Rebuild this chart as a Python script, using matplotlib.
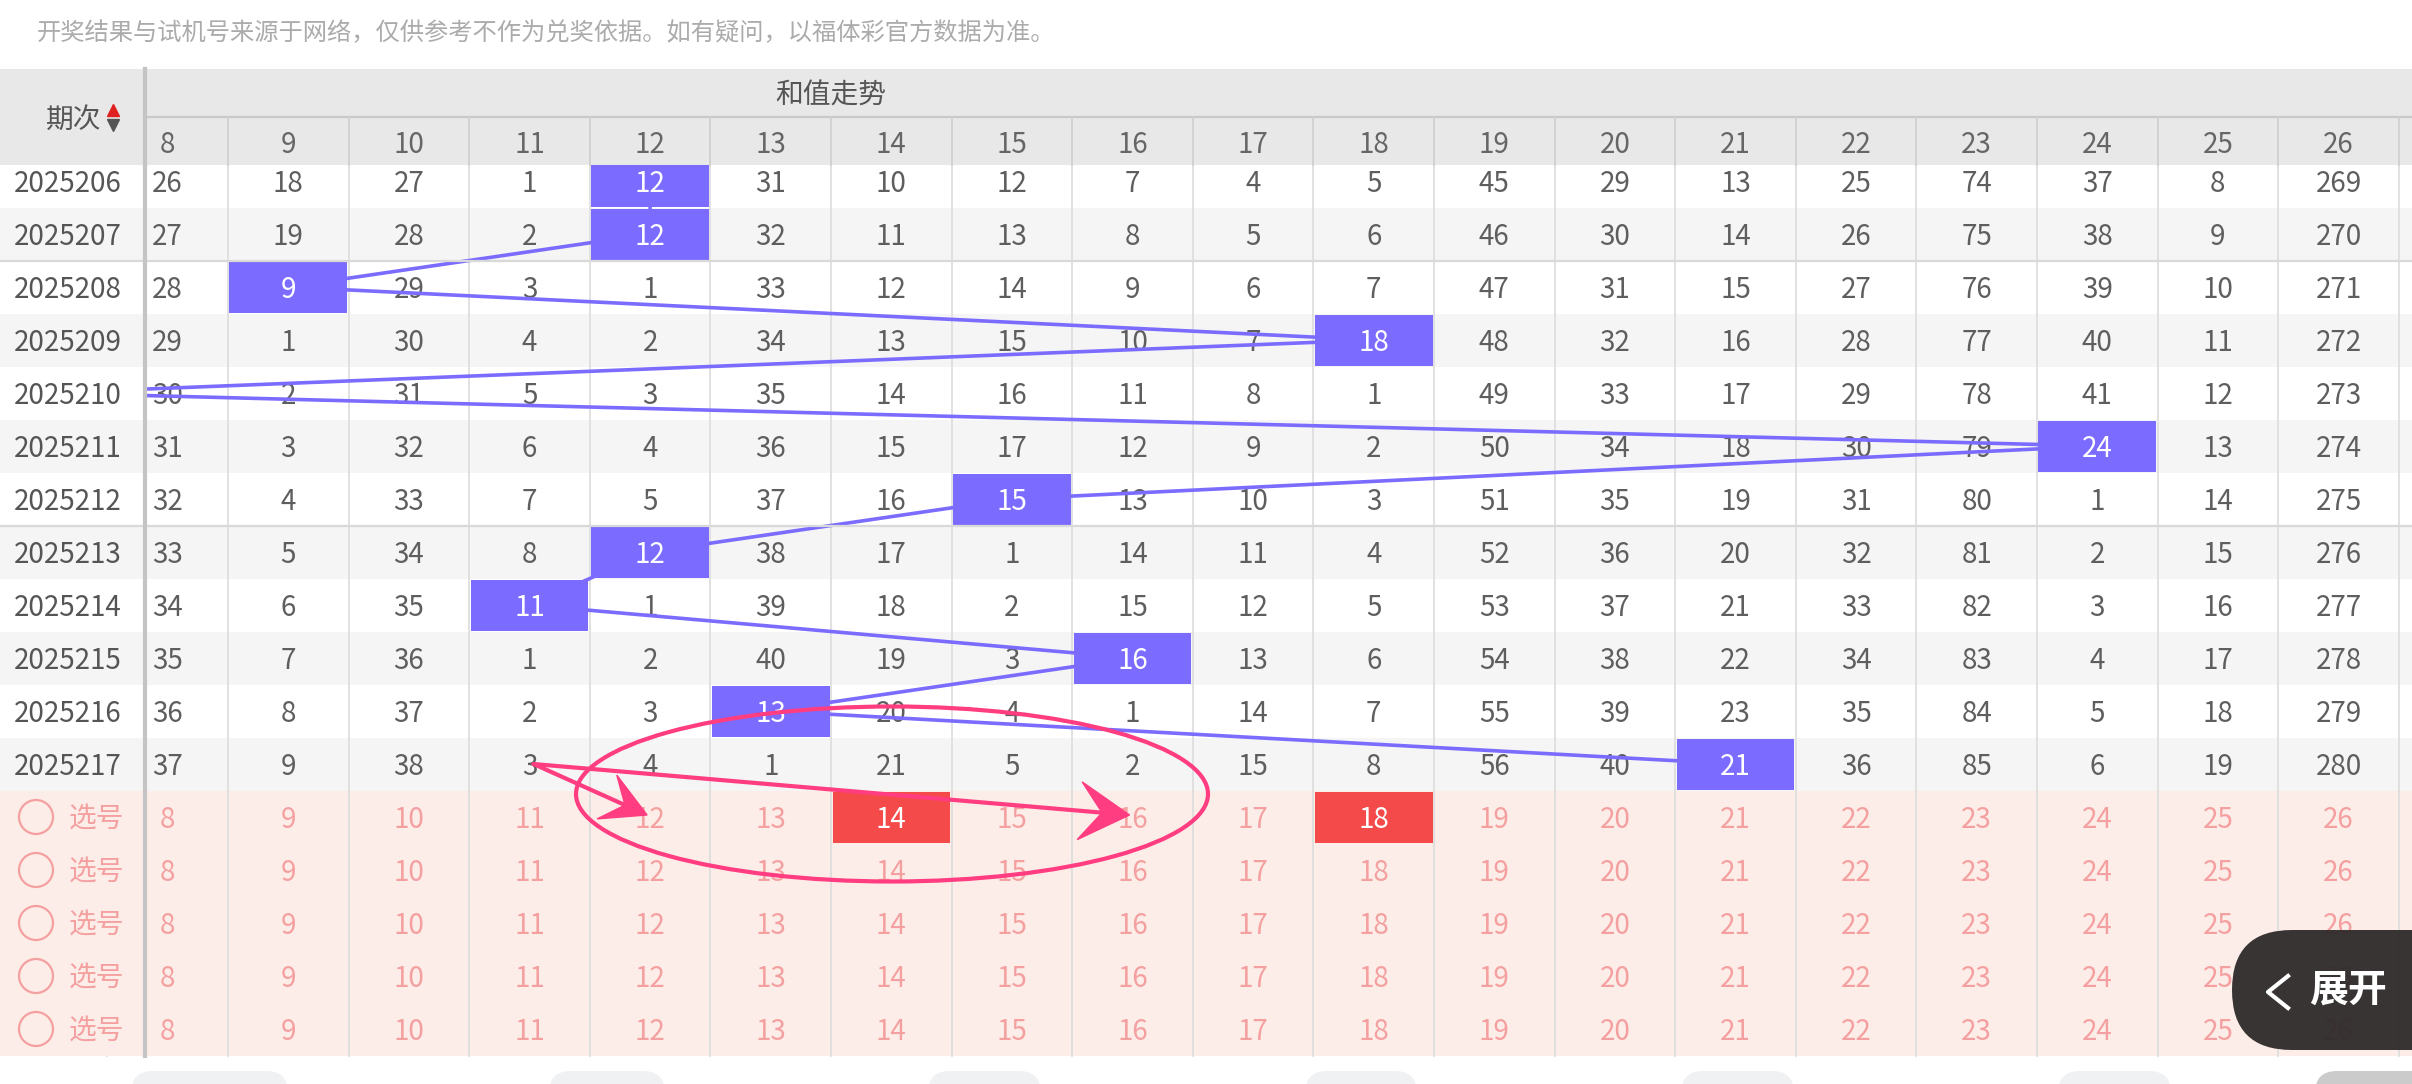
import numpy as np
import matplotlib.pyplot as plt
from matplotlib.patches import Rectangle, Ellipse, Polygon, FancyBboxPatch, Circle

plt.rcParams['font.family'] = ['Noto Sans CJK SC', 'DejaVu Sans']

# ---- data ----
notice = "开奖结果与试机号来源于网络，仅供参考不作为兑奖依据。如有疑问，以福体彩官方数据为准。"
title = "和值走势"
sums = list(range(8, 27))
periods = ["2025206", "2025207", "2025208", "2025209", "2025210", "2025211",
           "2025212", "2025213", "2025214", "2025215", "2025216", "2025217"]
# drawn sum of each period (7 sits in a column scrolled off to the left)
hits = [12, 12, 9, 18, 7, 24, 15, 12, 11, 16, 13, 21]
# omission counts shown in each row, columns 8..26
omissions = [
    [26, 18, 27, 1, 12, 31, 10, 12, 7, 4, 5, 45, 29, 13, 25, 74, 37, 8, 269],
    [27, 19, 28, 2, 12, 32, 11, 13, 8, 5, 6, 46, 30, 14, 26, 75, 38, 9, 270],
    [28, 9, 29, 3, 1, 33, 12, 14, 9, 6, 7, 47, 31, 15, 27, 76, 39, 10, 271],
    [29, 1, 30, 4, 2, 34, 13, 15, 10, 7, 18, 48, 32, 16, 28, 77, 40, 11, 272],
    [30, 2, 31, 5, 3, 35, 14, 16, 11, 8, 1, 49, 33, 17, 29, 78, 41, 12, 273],
    [31, 3, 32, 6, 4, 36, 15, 17, 12, 9, 2, 50, 34, 18, 30, 79, 24, 13, 274],
    [32, 4, 33, 7, 5, 37, 16, 15, 13, 10, 3, 51, 35, 19, 31, 80, 1, 14, 275],
    [33, 5, 34, 8, 12, 38, 17, 1, 14, 11, 4, 52, 36, 20, 32, 81, 2, 15, 276],
    [34, 6, 35, 11, 1, 39, 18, 2, 15, 12, 5, 53, 37, 21, 33, 82, 3, 16, 277],
    [35, 7, 36, 1, 2, 40, 19, 3, 16, 13, 6, 54, 38, 22, 34, 83, 4, 17, 278],
    [36, 8, 37, 2, 3, 13, 20, 4, 1, 14, 7, 55, 39, 23, 35, 84, 5, 18, 279],
    [37, 9, 38, 3, 4, 1, 21, 5, 2, 15, 8, 56, 40, 21, 36, 85, 6, 19, 280],
]
picked = [14, 18]          # numbers selected in the first 选号 row
pick_label = "选号"
pick_rows = 5
arrow_from = 11            # column of the "3" in the last period where the arrows start
arrow_to = [12, 16]
button_text = "展开"

# ---- layout (pixel units) ----
W, H = 2412, 1084
col_w = 120.6
x0 = 228 - col_w           # left edge of column "8"
frozen = 146
row_h = 53
y_first = 181
head_top, head_mid, head_bot = 69, 117, 165
dy = 3                     # optical offset for text baseline

def cx(v):
    return x0 + (v - sums[0] + 0.5) * col_w

def cy(i):
    return y_first + i * row_h

blue = '#7b6cff'
red = '#f44a4a'
pink_bg = '#fdede8'
pink_txt = '#f5a0a0'
mark = '#ff3d80'
num_c = '#5e5e5e'
grid_c = '#dedede'

fig = plt.figure(figsize=(W / 100, H / 100), dpi=100)
ax = fig.add_axes([0, 0, 1, 1])
ax.set_xlim(0, W)
ax.set_ylim(H, 0)
ax.axis('off')

n = len(periods)
pink_top = cy(n) - row_h / 2
pink_bot = pink_top + pick_rows * row_h

# row stripes
for i in range(n):
    fc = '#f5f5f5' if i % 2 else 'white'
    ax.add_patch(Rectangle((0, cy(i) - row_h / 2), W, row_h, fc=fc, ec='none', zorder=0))
ax.add_patch(Rectangle((0, pink_top), W, pink_bot - pink_top, fc=pink_bg, ec='none', zorder=0))

# vertical grid in body
for k in range(len(sums) + 1):
    x = x0 + k * col_w
    ax.plot([x, x], [head_bot, pink_bot], color=grid_c, lw=1.3, zorder=1)

# omission numbers
for i, row in enumerate(omissions):
    for v, val in zip(sums, row):
        if v == hits[i]:
            continue
        ax.text(cx(v), cy(i) + dy, str(val), ha='center', va='center', fontsize=20,
                color=num_c, zorder=2)

# trend line through the hit cells
ax.plot([cx(h) for h in hits], [cy(i) for i in range(n)], color=blue, lw=2.6,
        zorder=3, solid_capstyle='round')

# hit boxes (the one scrolled under the frozen column is not drawn)
for i, h in enumerate(hits):
    if cx(h) < frozen:
        continue
    ax.add_patch(Rectangle((cx(h) - col_w / 2 + 1.5, cy(i) - row_h / 2 + 1),
                           col_w - 3, row_h - 2, fc=blue, ec='none', zorder=4))
    ax.text(cx(h), cy(i) + dy, str(h), ha='center', va='center', fontsize=20,
            color='white', zorder=5)

# 选号 rows
for r in range(pick_rows):
    y = cy(n + r)
    for v in sums:
        c = pink_txt
        if r == 0 and v in picked:
            ax.add_patch(Rectangle((cx(v) - col_w / 2 + 1.5, y - row_h / 2 + 1),
                                   col_w - 3, row_h - 2, fc=red, ec='none', zorder=4))
            c = 'white'
        ax.text(cx(v), y + dy, str(v), ha='center', va='center', fontsize=20, color=c, zorder=5)

# frozen left column
for i in range(n):
    fc = '#f5f5f5' if i % 2 else 'white'
    ax.add_patch(Rectangle((0, cy(i) - row_h / 2), frozen, row_h, fc=fc, ec='none', zorder=6))
    ax.text(14, cy(i) + dy, periods[i], ha='left', va='center', fontsize=20, color='#555555', zorder=7)
ax.add_patch(Rectangle((0, pink_top), frozen, pink_bot - pink_top, fc=pink_bg, ec='none', zorder=6))
for r in range(pick_rows):
    y = cy(n + r)
    ax.add_patch(Circle((36, y), 17, fc='none', ec=pink_txt, lw=1.6, zorder=7))
    ax.text(96, y + dy, pick_label, ha='center', va='center', fontsize=20, color=pink_txt, zorder=7)

# group separators every 5 periods
for i, p in enumerate(periods):
    if int(p[-2:]) % 5 == 3 and i > 0:
        yb = cy(i) - row_h / 2
        ax.plot([0, W], [yb, yb], color='#d9d9d9', lw=1.6, zorder=6.5)

ax.plot([145, 145], [head_top, pink_bot], color='#c4c4c4', lw=3, zorder=8)

# header
ax.add_patch(Rectangle((0, head_top), W, head_bot - head_top, fc='#e8e8e8', ec='none', zorder=9))
ax.plot([frozen, W], [head_mid, head_mid], color='#c9c9c9', lw=1.6, zorder=10)
ax.plot([145, 145], [head_top, head_bot], color='#c4c4c4', lw=3, zorder=10)
for k in range(1, len(sums) + 1):
    x = x0 + k * col_w
    ax.plot([x, x], [head_mid, head_bot], color='#d0d0d0', lw=1.3, zorder=10)
for v in sums:
    if cx(v) > frozen:
        ax.text(cx(v), 142 + dy, str(v), ha='center', va='center', fontsize=20, color='#666666',
                family=['Liberation Sans Narrow', 'Noto Sans CJK SC'], zorder=10)
ax.text(831, 93 + dy, title, ha='center', va='center', fontsize=20, color='#555555', zorder=10)
ax.text(74, 117 + dy, "期次", ha='center', va='center', fontsize=20, color='#555555', zorder=10)
ax.plot([113], [110], marker='^', ms=8, color='#e02020', zorder=10)
ax.plot([113], [125], marker='v', ms=8, color='#555555', zorder=10)

# notice line
ax.text(37, 33, notice, ha='left', va='center', fontsize=17.5, color='#ababab')

# hand-drawn pink marks
ax.add_patch(Ellipse((892, 794), 632, 175, fc='none', ec=mark, lw=3, zorder=11))
start = np.array([cx(arrow_from) + 4, cy(n - 1)])
for t, (hl, hw) in zip(arrow_to, [(44, 24), (50, 29)]):
    tip = np.array([cx(t) - 3, cy(n) - 2])
    d = (tip - start) / np.linalg.norm(tip - start)
    nrm = np.array([-d[1], d[0]])
    notch = tip - d * hl * 0.55
    ax.plot([start[0], notch[0]], [start[1], notch[1]], color=mark, lw=3,
            solid_capstyle='round', zorder=11)
    head = [tip, tip - d * hl + nrm * hw, notch, tip - d * hl - nrm * hw]
    ax.add_patch(Polygon(head, closed=True, fc=mark, ec=mark, lw=1, zorder=11))

# expand button
ax.add_patch(FancyBboxPatch((2232, 930), 320, 120, boxstyle='round,pad=0,rounding_size=60',
                            fc='#302c2b', ec='none', alpha=0.96, zorder=12))
ax.plot([2288, 2268, 2288], [976, 992, 1008], color='white', lw=3, zorder=13)
ax.text(2348, 990, button_text, ha='center', va='center', fontsize=28, color='white',
        fontweight='bold', zorder=13)

# bottom tab tops
for xa, xb, c in [(131, 288, '#f0f1f3'), (549, 665, '#f0f1f3'), (928, 1041, '#f0f1f3'),
                  (1305, 1417, '#f0f1f3'), (1681, 1794, '#f0f1f3'), (2058, 2171, '#f0f1f3'),
                  (2315, 2600, '#cbcbcb')]:
    ax.add_patch(FancyBboxPatch((xa, 1071), xb - xa, 60, boxstyle='round,pad=0,rounding_size=22',
                                fc=c, ec='none', zorder=1))

fig.savefig('out.png', dpi=100)
